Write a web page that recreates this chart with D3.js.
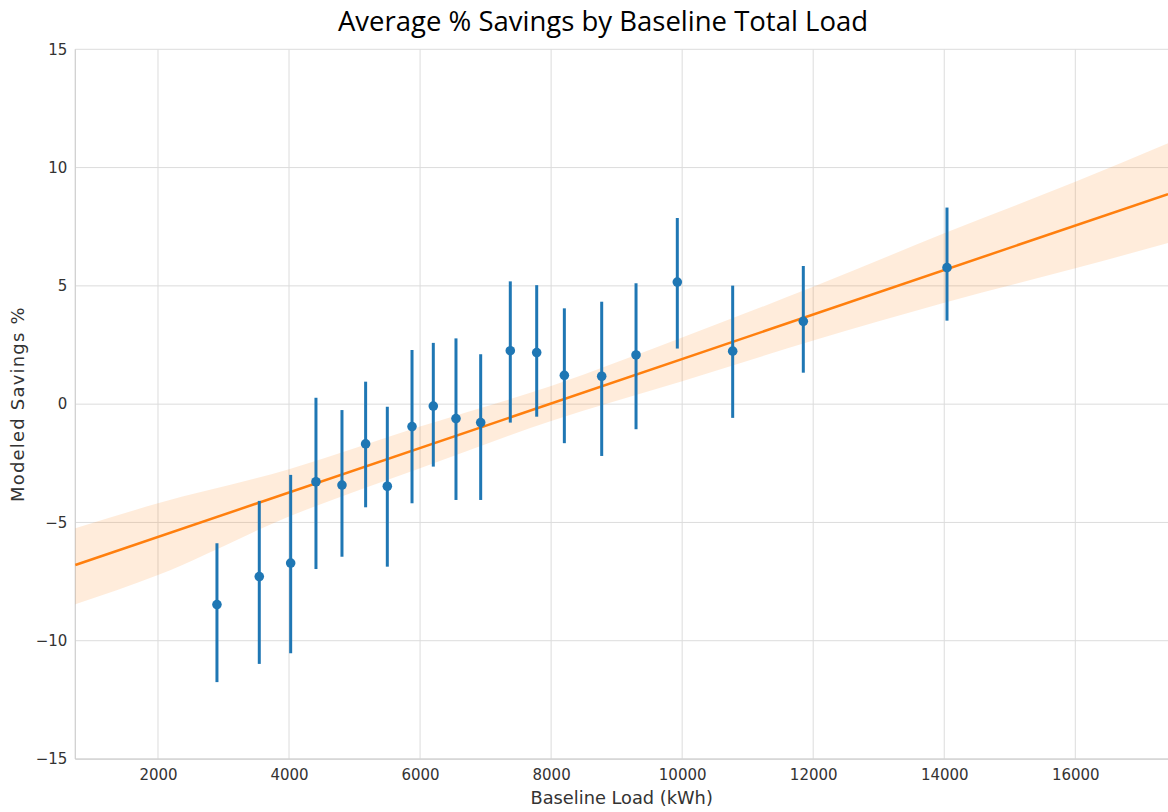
<!DOCTYPE html>
<html>
<head>
<meta charset="utf-8">
<script src="https://cdn.jsdelivr.net/npm/d3@7"></script>
<style>
  body { margin: 0; background: #fff; }
  svg { display: block; }
</style>
</head>
<body>
<div id="chart"></div>
<script>
// binned baseline load (kWh), mean savings % and 95% CI ends
var loads = [2900, 3546, 4025, 4411, 4808, 5169, 5500, 5877, 6202, 6548,
             6925, 7377, 7780, 8202, 8772, 9296, 9926, 10771, 11849, 14042];
var means = [-8.47, -7.29, -6.72, -3.28, -3.42, -1.68, -3.47, -0.95, -0.08, -0.61,
             -0.78, 2.26, 2.18, 1.22, 1.18, 2.08, 5.16, 2.24, 3.50, 5.77];
var ciHigh = [-5.88, -4.09, -2.99, 0.27, -0.25, 0.95, -0.11, 2.29, 2.59, 2.78,
              2.11, 5.19, 5.03, 4.05, 4.33, 5.11, 7.87, 5.01, 5.84, 8.31];
var ciLow = [-11.75, -10.98, -10.53, -6.97, -6.45, -4.36, -6.87, -4.19, -2.64, -4.05,
             -4.05, -0.78, -0.53, -1.65, -2.19, -1.06, 2.35, -0.58, 1.33, 3.53];

// regression fit line and its confidence band
var fitX = [738, 17415];
var fitY = [-6.80, 8.88];
var bandX = [738, 2000, 4000, 6000, 8000, 10000, 12000, 14000, 16000, 17415];
var bandHigh = [-5.25, -4.19, -2.75, -0.95, 0.77, 2.82, 4.96, 7.22, 9.40, 11.03];
var bandLow = [-8.46, -7.22, -4.75, -2.71, -0.71, 0.97, 2.69, 4.29, 5.74, 6.81];

var xTicks = [2000, 4000, 6000, 8000, 10000, 12000, 14000, 16000];
var yTicks = [-15, -10, -5, 0, 5, 10, 15];

var width = 1168, height = 812;
var margin = {top: 49.3, right: 0, bottom: 53, left: 75.3};

var svg = d3.select("#chart").append("svg")
    .attr("width", width)
    .attr("height", height);

var x = d3.scaleLinear()
    .domain([738, 17415])
    .range([margin.left, width - margin.right]);

var y = d3.scaleLinear()
    .domain([-15, 15])
    .range([height - margin.bottom, margin.top]);

// grid
svg.append("g")
    .selectAll("line")
    .data(xTicks)
    .enter().append("line")
    .attr("x1", function(d){ return x(d); })
    .attr("x2", function(d){ return x(d); })
    .attr("y1", y(-15))
    .attr("y2", y(15))
    .style("stroke", "#dcdcdc")
    .style("stroke-width", 1);

svg.append("g")
    .selectAll("line")
    .data(yTicks)
    .enter().append("line")
    .attr("x1", x.range()[0])
    .attr("x2", x.range()[1])
    .attr("y1", function(d){ return y(d); })
    .attr("y2", function(d){ return y(d); })
    .style("stroke", "#dcdcdc")
    .style("stroke-width", 1);

// spines
svg.append("line")
    .attr("x1", x.range()[0]).attr("x2", x.range()[0])
    .attr("y1", y(-15)).attr("y2", y(15))
    .style("stroke", "#cfcfcf").style("stroke-width", 1.25);
svg.append("line")
    .attr("x1", x.range()[0]).attr("x2", x.range()[1])
    .attr("y1", y(-15)).attr("y2", y(-15))
    .style("stroke", "#cfcfcf").style("stroke-width", 1.25);

// axes (labels only, no tick marks)
var xAxis = svg.append("g")
    .attr("transform", "translate(0," + y(-15) + ")")
    .call(d3.axisBottom(x).tickValues(xTicks).tickSize(0).tickPadding(10).tickFormat(d3.format("d")));
var yAxis = svg.append("g")
    .attr("transform", "translate(" + x.range()[0] + ",0)")
    .call(d3.axisLeft(y).tickValues(yTicks).tickSize(0).tickPadding(8).tickFormat(d3.format("d")));

[xAxis, yAxis].forEach(function(g){
  g.select(".domain").remove();
  g.selectAll("text")
    .style("font-family", "DejaVu Sans")
    .style("font-size", "15px")
    .style("fill", "#333");
});

// confidence band
var band = d3.area()
    .x(function(d, i){ return x(bandX[i]); })
    .y0(function(d, i){ return y(bandLow[i]); })
    .y1(function(d, i){ return y(bandHigh[i]); })
    .curve(d3.curveMonotoneX);

svg.append("path")
    .datum(bandX)
    .attr("d", band)
    .style("fill", "#ff7f0e")
    .style("fill-opacity", 0.15);

// fit line
var line = d3.line()
    .x(function(d, i){ return x(fitX[i]); })
    .y(function(d, i){ return y(fitY[i]); });

svg.append("path")
    .datum(fitX)
    .attr("d", line)
    .style("fill", "none")
    .style("stroke", "#ff7f0e")
    .style("stroke-width", 2.5);

// error bars
svg.append("g")
    .selectAll("line")
    .data(loads)
    .enter().append("line")
    .attr("x1", function(d){ return x(d); })
    .attr("x2", function(d){ return x(d); })
    .attr("y1", function(d, i){ return y(ciLow[i]); })
    .attr("y2", function(d, i){ return y(ciHigh[i]); })
    .style("stroke", "#1f77b4")
    .style("stroke-width", 3);

// mean points
svg.append("g")
    .selectAll("circle")
    .data(loads)
    .enter().append("circle")
    .attr("cx", function(d){ return x(d); })
    .attr("cy", function(d, i){ return y(means[i]); })
    .attr("r", 4.8)
    .style("fill", "#1f77b4");

// titles
svg.append("text")
    .attr("x", 603)
    .attr("y", 31)
    .attr("text-anchor", "middle")
    .text("Average % Savings by Baseline Total Load")
    .style("font-family", "Open Sans")
    .style("font-size", "27.5px")
    .style("fill", "#000");

svg.append("text")
    .attr("x", (x.range()[0] + x.range()[1]) / 2)
    .attr("y", 804)
    .attr("text-anchor", "middle")
    .text("Baseline Load (kWh)")
    .style("font-family", "DejaVu Sans")
    .style("font-size", "17.8px")
    .style("fill", "#333");

svg.append("text")
    .attr("transform", "translate(24," + y(0) + ") rotate(-90)")
    .attr("text-anchor", "middle")
    .text("Modeled Savings %")
    .style("font-family", "DejaVu Sans")
    .style("font-size", "18px")
    .style("letter-spacing", "1.2px")
    .style("fill", "#333");
</script>
</body>
</html>
